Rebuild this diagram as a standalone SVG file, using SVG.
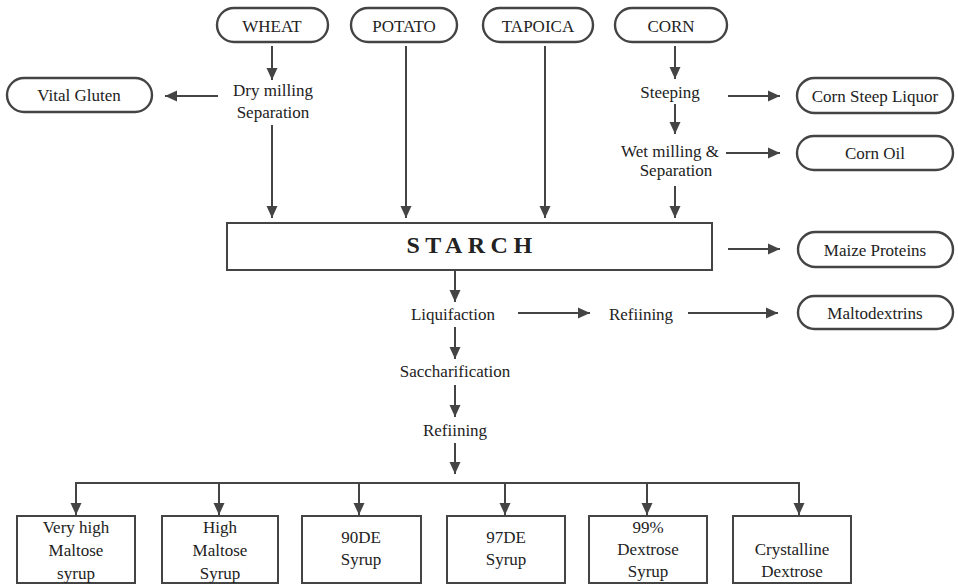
<svg xmlns="http://www.w3.org/2000/svg" width="958" height="585" viewBox="0 0 958 585" font-family="'Liberation Serif', 'Times New Roman', serif">
<defs>
<style>
text{font-family:'Liberation Serif','Times New Roman',serif;font-size:17px;fill:#222;text-anchor:middle}
.pill,.box{fill:#fff;stroke:#444;stroke-width:2.4}
.box{stroke-width:2}
.ln{stroke:#444;stroke-width:2;fill:none}
.ar{marker-end:url(#ah)}
.big{font-size:24px;font-weight:bold;letter-spacing:5.5px}
</style>
<marker id="ah" markerUnits="userSpaceOnUse" markerWidth="12" markerHeight="12" viewBox="0 0 12 12" refX="12" refY="6" orient="auto">
<path d="M0,0.5 L12,6 L0,11.5 z" fill="#444"/>
</marker>
</defs>
<rect width="958" height="585" fill="#fff"/>

<g id="wheat"><rect class="pill" x="217" y="8" width="111" height="34" rx="17"/><text x="272" y="32">WHEAT</text></g>
<g id="potato"><rect class="pill" x="351" y="8" width="106" height="34" rx="17"/><text x="404" y="32">POTATO</text></g>
<g id="tapoica"><rect class="pill" x="483" y="8" width="110" height="34" rx="17"/><text x="538" y="32">TAPOICA</text></g>
<g id="corn"><rect class="pill" x="615" y="8" width="112" height="34" rx="17"/><text x="671" y="32">CORN</text></g>

<g id="vital-gluten"><rect class="pill" x="7" y="78" width="145" height="34" rx="17"/><text x="79" y="101">Vital Gluten</text></g>
<g id="dry-milling"><text x="273" y="96">Dry milling</text><text x="273" y="118">Separation</text></g>
<g id="steeping"><text x="670" y="98">Steeping</text></g>
<g id="wet-milling"><text x="670" y="157">Wet milling &amp;</text><text x="676" y="176">Separation</text></g>
<g id="corn-steep-liquor"><rect class="pill" x="797" y="78" width="156" height="35" rx="17.5"/><text x="875" y="102">Corn Steep Liquor</text></g>
<g id="corn-oil"><rect class="pill" x="797" y="136" width="156" height="34" rx="17"/><text x="875" y="159">Corn Oil</text></g>

<g id="starch"><rect class="box" x="227" y="223" width="485" height="47"/><text class="big" x="472" y="253">STARCH</text></g>
<g id="maize-proteins"><rect class="pill" x="798" y="232" width="155" height="35" rx="17.5"/><text x="875" y="256">Maize Proteins</text></g>

<g id="liquifaction"><text x="453" y="320">Liquifaction</text></g>
<g id="refining1"><text x="641" y="320">Refiining</text></g>
<g id="maltodextrins"><rect class="pill" x="798" y="296" width="155" height="33" rx="16.5"/><text x="875" y="319">Maltodextrins</text></g>
<g id="saccharification"><text x="455" y="377">Saccharification</text></g>
<g id="refining2"><text x="455" y="436">Refiining</text></g>

<g id="p1"><rect class="box" x="17" y="516" width="118" height="67"/><text x="76" y="533">Very high</text><text x="76" y="556">Maltose</text><text x="76" y="579">syrup</text></g>
<g id="p2"><rect class="box" x="162" y="516" width="116" height="67"/><text x="220" y="533">High</text><text x="220" y="556">Maltose</text><text x="220" y="579">Syrup</text></g>
<g id="p3"><rect class="box" x="302" y="516" width="119" height="67"/><text x="361" y="543">90DE</text><text x="361" y="565">Syrup</text></g>
<g id="p4"><rect class="box" x="447" y="516" width="118" height="67"/><text x="506" y="543">97DE</text><text x="506" y="565">Syrup</text></g>
<g id="p5"><rect class="box" x="589" y="516" width="118" height="67"/><text x="648" y="533">99%</text><text x="648" y="555">Dextrose</text><text x="648" y="577">Syrup</text></g>
<g id="p6"><rect class="box" x="733" y="516" width="118" height="67"/><text x="792" y="555">Crystalline</text><text x="792" y="577">Dextrose</text></g>

<g id="connectors">
<line class="ln ar" x1="272" y1="46" x2="272" y2="80"/>
<line class="ln ar" x1="218" y1="96" x2="165" y2="96"/>
<line class="ln ar" x1="272" y1="125" x2="272" y2="218"/>
<line class="ln ar" x1="406" y1="46" x2="406" y2="218"/>
<line class="ln ar" x1="545" y1="46" x2="545" y2="218"/>
<line class="ln ar" x1="675" y1="46" x2="675" y2="79"/>
<line class="ln ar" x1="675" y1="104" x2="675" y2="134"/>
<line class="ln ar" x1="675" y1="186" x2="675" y2="218"/>
<line class="ln ar" x1="728" y1="96" x2="780" y2="96"/>
<line class="ln ar" x1="726" y1="153" x2="780" y2="153"/>
<line class="ln ar" x1="728" y1="249" x2="780" y2="249"/>
<line class="ln ar" x1="455" y1="270" x2="455" y2="302"/>
<line class="ln ar" x1="518" y1="313" x2="590" y2="313"/>
<line class="ln ar" x1="688" y1="313" x2="778" y2="313"/>
<line class="ln ar" x1="455" y1="327" x2="455" y2="359"/>
<line class="ln ar" x1="455" y1="385" x2="455" y2="417"/>
<line class="ln ar" x1="455" y1="443" x2="455" y2="474"/>
<polyline class="ln" points="76,514 76,483 799,483 799,514"/>
<line class="ln ar" x1="76" y1="483" x2="76" y2="515"/>
<line class="ln ar" x1="219" y1="483" x2="219" y2="515"/>
<line class="ln ar" x1="359" y1="483" x2="359" y2="515"/>
<line class="ln ar" x1="505" y1="483" x2="505" y2="515"/>
<line class="ln ar" x1="647" y1="483" x2="647" y2="515"/>
<line class="ln ar" x1="799" y1="483" x2="799" y2="515"/>
</g>
</svg>
